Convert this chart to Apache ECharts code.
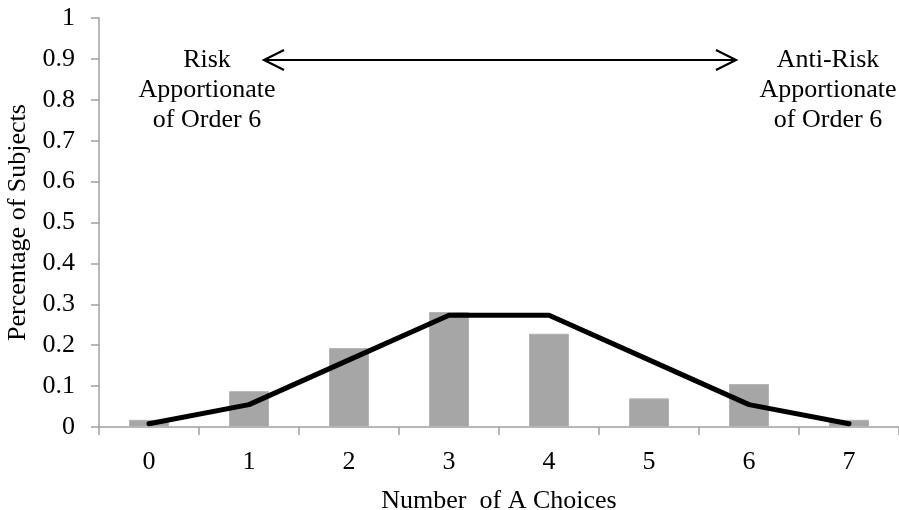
<!DOCTYPE html>
<html>
<head>
<meta charset="utf-8">
<script src="https://cdn.jsdelivr.net/npm/echarts@6/dist/echarts.min.js"></script>
<style>
html,body{margin:0;padding:0;background:#fff;}
#chart{width:899px;height:510px;}
</style>
</head>
<body>
<div id="chart"></div>
<script>
// Data
const categories = ['0', '1', '2', '3', '4', '5', '6', '7'];
const observedShare = [0.0175, 0.0877, 0.193, 0.281, 0.228, 0.070, 0.105, 0.0175];
const expectedShare = [0.0078, 0.0547, 0.1641, 0.2734, 0.2734, 0.1641, 0.0547, 0.0078];
const yTicks = [0, 0.1, 0.2, 0.3, 0.4, 0.5, 0.6, 0.7, 0.8, 0.9, 1];

const FONT = '"Liberation Serif", "Times New Roman", serif';
const FS = 26;
const axisGray = '#a0a0a0';

const chart = echarts.init(document.getElementById('chart'), null, {renderer: 'canvas'});

function chevron(tipX, y, dir) {
  const L = 20, H = 10;
  return {
    type: 'polyline',
    shape: {points: [[tipX + dir * L, y - H], [tipX, y], [tipX + dir * L, y + H]]},
    style: {stroke: '#000', lineWidth: 2.2, fill: null},
    z: 10
  };
}

const textStyle = (x, y, t) => ({
  type: 'text', x: x, y: y,
  style: {text: t, font: FS + 'px ' + FONT, fill: '#000', align: 'center', verticalAlign: 'middle'},
  z: 10
});

chart.setOption({
  animation: false,
  backgroundColor: '#fff',
  grid: {left: 99, right: 0, top: 18, bottom: 83, containLabel: false, outerBoundsMode: 'none'},
  xAxis: {
    type: 'category',
    data: categories,
    boundaryGap: true,
    name: 'Number  of A Choices',
    nameLocation: 'middle',
    nameGap: 61,
    nameTextStyle: {fontFamily: FONT, fontSize: FS, color: '#000'},
    axisLine: {show: true, lineStyle: {color: axisGray, width: 1.5}},
    axisTick: {show: true, length: 8, lineStyle: {color: axisGray, width: 1.5}},
    axisLabel: {fontFamily: FONT, fontSize: FS, color: '#000', margin: 22},
    splitLine: {show: false}
  },
  yAxis: {
    type: 'value',
    min: 0, max: 1, interval: 0.1,
    name: 'Percentage of Subjects',
    nameLocation: 'middle',
    nameGap: 56,
    nameRotate: 90,
    nameTextStyle: {fontFamily: FONT, fontSize: FS, color: '#000'},
    axisLine: {show: true, lineStyle: {color: axisGray, width: 1.5}},
    axisTick: {show: true, length: 8, lineStyle: {color: axisGray, width: 1.5}},
    axisLabel: {
      fontFamily: FONT, fontSize: FS, color: '#000', margin: 24,
      formatter: v => {
        const t = yTicks.find(k => Math.abs(k - v) < 1e-9);
        return t === undefined ? '' : String(t);
      }
    },
    splitLine: {show: false}
  },
  series: [
    {
      type: 'bar',
      data: observedShare,
      barWidth: 40,
      itemStyle: {color: '#a6a6a6', borderColor: '#b4b4b4', borderWidth: 1},
      z: 2
    },
    {
      type: 'line',
      data: expectedShare,
      showSymbol: false,
      symbol: 'none',
      lineStyle: {color: '#000', width: 5, join: 'round', cap: 'round'},
      z: 3
    }
  ],
  graphic: [
    {
      type: 'line',
      shape: {x1: 264, y1: 60, x2: 736, y2: 60},
      style: {stroke: '#000', lineWidth: 2.2},
      z: 10
    },
    chevron(264, 60, 1),
    chevron(736, 60, -1),
    textStyle(207, 60, 'Risk'),
    textStyle(207, 90, 'Apportionate'),
    textStyle(207, 120, 'of Order 6'),
    textStyle(828, 60, 'Anti-Risk'),
    textStyle(828, 90, 'Apportionate'),
    textStyle(828, 120, 'of Order 6')
  ]
});
</script>
</body>
</html>
